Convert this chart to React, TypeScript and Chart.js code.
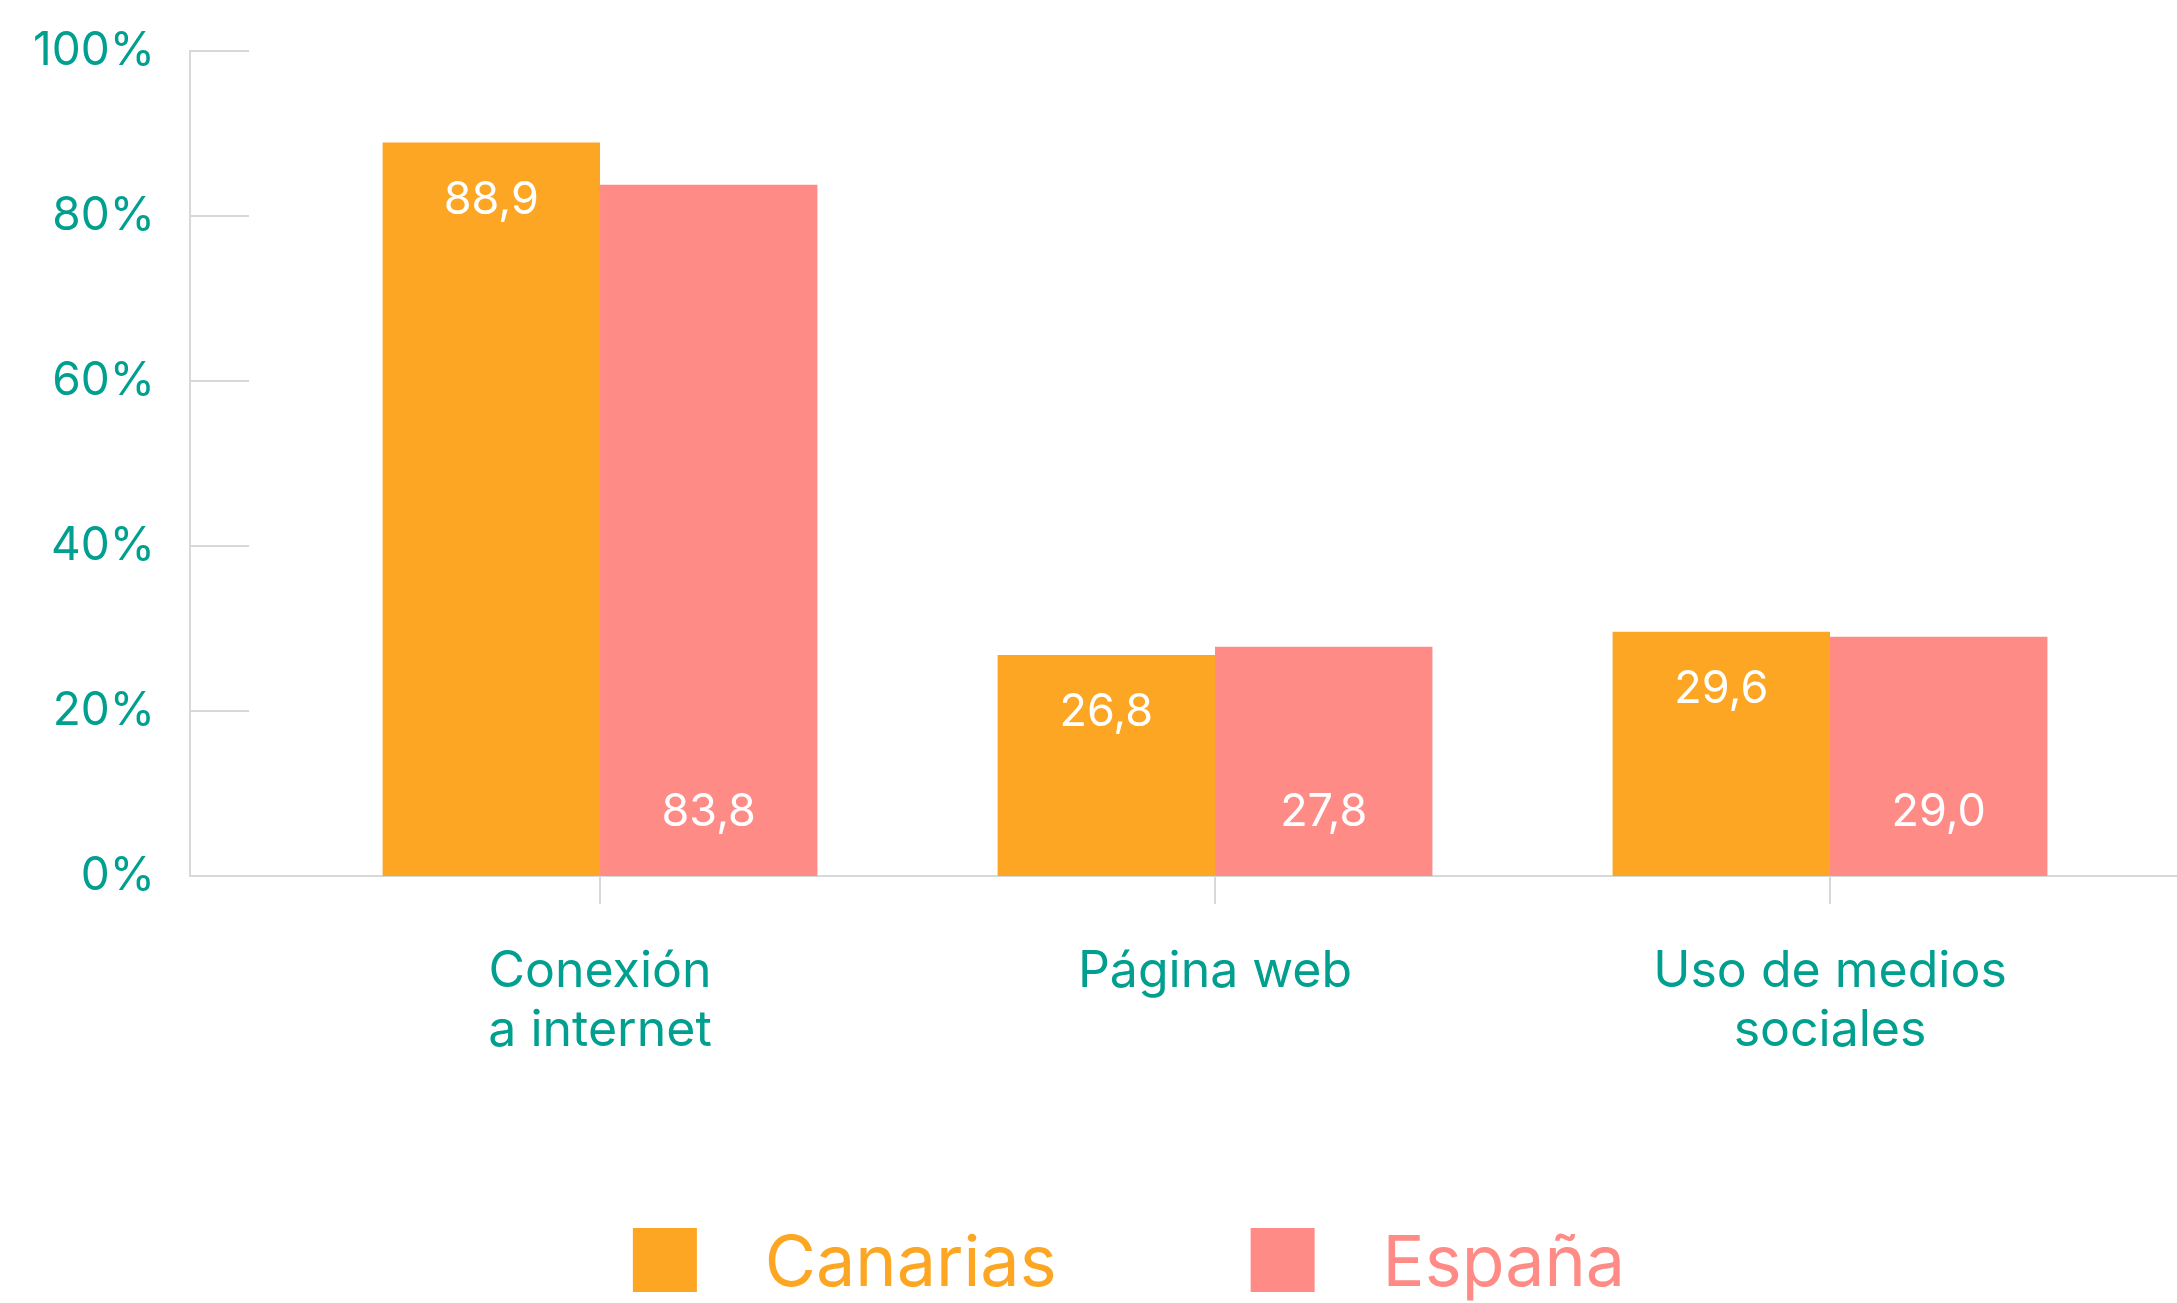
import { useEffect, useRef } from 'react';
import { Chart, registerables } from 'chart.js';

Chart.register(...registerables);

// ---- data ----
const categories: string[][] = [['Conexión', 'a internet'], ['Página web'], ['Uso de medios', 'sociales']];
const seriesNames = ['Canarias', 'España'];
const canariasValues = [88.9, 26.8, 29.6];
const espanaValues = [83.8, 27.8, 29.0];
const yTickValues = [0, 20, 40, 60, 80, 100];

// ---- styles ----
const TEAL = '#009F8F';
const ORANGE = '#FCA624';
const PINK = '#FF8B87';
const AXIS = '#D6D9D9';
const FONT = 'Inter, "Noto Sans", sans-serif';
const seriesColors = [ORANGE, PINK];

const fmt = (v: number) => v.toFixed(1).replace('.', ',');

// legend swatch: transparent margin on the left, 64px square, transparent gap on the right
const SWATCH_W = 178;
const SWATCH_H = 74;
const SWATCH_OFFSET = 81;
const SWATCH_SIZE = 64;
function makeSwatch(color: string): HTMLCanvasElement {
  const c = document.createElement('canvas');
  c.width = SWATCH_W;
  c.height = SWATCH_H;
  const g = c.getContext('2d')!;
  g.fillStyle = color;
  g.fillRect(SWATCH_OFFSET, 0, SWATCH_SIZE, SWATCH_SIZE);
  return c;
}

const yTickMarks = {
  id: 'yTickMarks',
  beforeDatasetsDraw(chart: any) {
    const { ctx, chartArea } = chart;
    const ys = chart.scales.y;
    ctx.save();
    ctx.strokeStyle = AXIS;
    ctx.lineWidth = 2;
    ys.ticks.forEach((t: any) => {
      const py = Math.round(ys.getPixelForValue(t.value));
      ctx.beginPath();
      ctx.moveTo(chartArea.left, py);
      ctx.lineTo(chartArea.left + 59, py);
      ctx.stroke();
    });
    ctx.restore();
  },
};

const valueLabels = {
  id: 'valueLabels',
  afterDatasetsDraw(chart: any) {
    const { ctx } = chart;
    ctx.save();
    ctx.font = `400 45px ${FONT}`;
    ctx.fillStyle = '#FFFFFF';
    ctx.textAlign = 'center';
    ctx.textBaseline = 'middle';
    chart.data.datasets.forEach((ds: any, di: number) => {
      const meta = chart.getDatasetMeta(di);
      meta.data.forEach((el: any, i: number) => {
        const v = ds.data[i].y as number;
        const y = di === 0 ? el.y + 58 : el.base - 64;
        ctx.fillText(fmt(v), el.x, y);
      });
    });
    ctx.restore();
  },
};

export default function App() {
  const ref = useRef<HTMLCanvasElement | null>(null);

  useEffect(() => {
    document.body.style.margin = '0';
    const canvas = ref.current;
    if (!canvas) return;
    const swatches = seriesColors.map(makeSwatch);

    const chart = new Chart(canvas, {
      type: 'bar',
      data: {
        datasets: [
          {
            label: seriesNames[0],
            data: canariasValues.map((v, i) => ({ x: i, y: v })),
            backgroundColor: ORANGE,
            borderWidth: 0,
          },
          {
            label: seriesNames[1],
            data: espanaValues.map((v, i) => ({ x: i, y: v })),
            backgroundColor: PINK,
            borderWidth: 0,
          },
        ],
      } as any,
      options: {
        responsive: false,
        animation: false,
        layout: { padding: { left: 0, top: 51, right: 0, bottom: -7 } },
        datasets: { bar: { categoryPercentage: 0.707, barPercentage: 1 } } as any,
        scales: {
          x: {
            type: 'linear',
            min: -0.6667,
            max: 2.5642,
            offset: false,
            afterBuildTicks: (s: any) => {
              s.ticks = categories.map((_, i) => ({ value: i }));
            },
            afterFit: (s: any) => {
              s.height = 241;
            },
            grid: {
              display: true,
              offset: false,
              drawOnChartArea: false,
              drawTicks: true,
              tickLength: 28,
              color: AXIS,
              lineWidth: 2,
            },
            border: { display: true, color: AXIS, width: 2 },
            ticks: {
              autoSkip: false,
              maxRotation: 0,
              minRotation: 0,
              padding: 38,
              color: TEAL,
              font: { family: FONT, size: 50, lineHeight: 1.18 },
              callback: (_v: any, i: number) => categories[i],
            },
          } as any,
          y: {
            min: 0,
            max: 100,
            afterBuildTicks: (s: any) => {
              s.ticks = yTickValues.map((v) => ({ value: v }));
            },
            afterFit: (s: any) => {
              s.width = 190;
            },
            grid: { display: false, drawTicks: true, tickLength: 35 },
            border: { display: true, color: AXIS, width: 2 },
            ticks: {
              padding: 0,
              color: TEAL,
              font: { family: FONT, size: 46 },
              callback: (v: any) => `${v}%`,
            },
          } as any,
        },
        plugins: {
          legend: {
            position: 'bottom',
            labels: {
              usePointStyle: true,
              pointStyleWidth: SWATCH_W,
              boxHeight: SWATCH_SIZE,
              padding: 113,
              font: { family: FONT, size: 70 },
              generateLabels: (c: any) => {
                const items = (Chart.defaults.plugins.legend.labels as any).generateLabels(c);
                return items.map((it: any, i: number) => ({
                  ...it,
                  fontColor: seriesColors[i],
                  pointStyle: swatches[i],
                  lineWidth: 0,
                }));
              },
            },
          } as any,
          tooltip: { enabled: false },
        },
      },
      plugins: [yTickMarks, valueLabels],
    });

    return () => chart.destroy();
  }, []);

  return (
    <div style={{ width: 2177, height: 1303 }}>
      <canvas ref={ref} width={2177} height={1303} style={{ display: 'block' }} />
    </div>
  );
}
